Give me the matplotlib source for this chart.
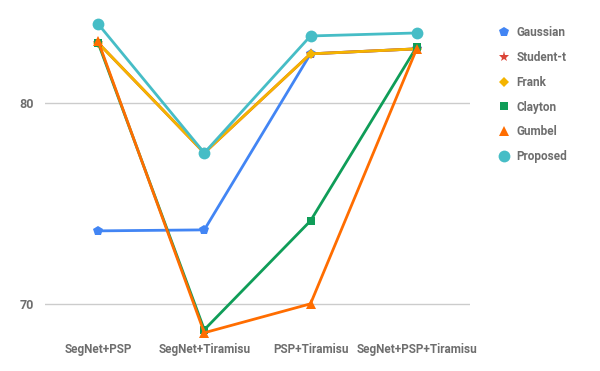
import matplotlib
matplotlib.use("Agg")
import matplotlib.pyplot as plt
from matplotlib.lines import Line2D

# data
categories = ["SegNet+PSP", "SegNet+Tiramisu", "PSP+Tiramisu", "SegNet+PSP+Tiramisu"]
gaussian = [73.63, 73.68, 82.44, 82.69]
student_t = [82.99, 77.51, 82.44, 82.69]
frank = [82.99, 77.51, 82.44, 82.69]
clayton = [82.99, 68.71, 74.13, 82.79]
gumbel = [83.08, 68.56, 70.00, 82.69]
proposed = [83.93, 77.51, 83.33, 83.48]
yticks = [70, 80]

series = [
    ("Gaussian", gaussian, "#4285F4", "p", 7.0),
    ("Student-t", student_t, "#DB4437", "*", 8.0),
    ("Frank", frank, "#F4B400", "D", 5.5),
    ("Clayton", clayton, "#0F9D58", "s", 5.5),
    ("Gumbel", gumbel, "#FF6D00", "^", 6.5),
    ("Proposed", proposed, "#46BDC6", "o", 8.5),
]

plt.rcParams["font.family"] = ["Roboto", "DejaVu Sans"]

fig = plt.figure(figsize=(6.0, 3.71), dpi=100)
ax = fig.add_axes([0.075, 0.0836, 0.708, 0.9164])

x = list(range(len(categories)))
handles = []
for name, vals, col, mk, ms in series:
    ax.plot(x, vals, color=col, lw=2, marker=mk, markersize=ms,
            markeredgewidth=0, zorder=3)
    handles.append(Line2D([], [], color=col, marker=mk, markersize=ms,
                          markeredgewidth=0, linestyle="none", label=name))

ax.set_xlim(-0.5, 3.5)
ax.set_ylim(68.2, 85.12)
ax.set_yticks(yticks)
ax.set_xticks(x)
ax.set_xticklabels(categories)
ax.grid(axis="y", color="#cccccc", lw=1)
ax.set_axisbelow(True)
for s in ax.spines.values():
    s.set_visible(False)
ax.tick_params(length=0, colors="#6e6e6e")
ax.tick_params(axis="y", pad=8, labelsize=9)
ax.tick_params(axis="x", pad=2, labelsize=8.5)
for lab in ax.get_xticklabels() + ax.get_yticklabels():
    lab.set_fontweight("bold")

leg = fig.legend(handles=handles, loc="upper left",
                 bbox_to_anchor=(0.812, 0.958), frameon=False,
                 handlelength=1.0, handletextpad=0.6, labelspacing=1.0,
                 prop={"size": 8.5, "weight": "bold"})
for t in leg.get_texts():
    t.set_color("#6e6e6e")

fig.savefig("out.png", dpi=100)
